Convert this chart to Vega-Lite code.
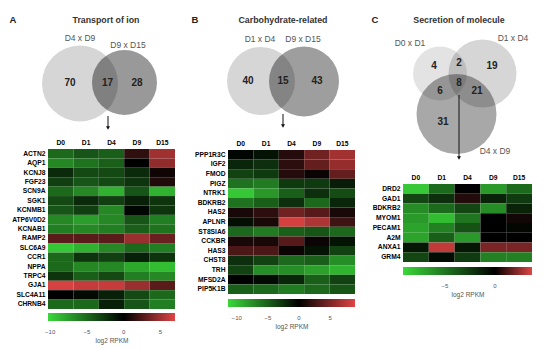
{
"$schema": "https://vega.github.io/schema/vega-lite/v6.json",
"autosize": {"type": "pad"},
"padding": 0,
"bounds": "flush",
"spacing": 0,
"config": {
  "font": "Liberation Sans",
  "view": {"stroke": null},
  "axis": {"labelColor": "#000000", "labelFont": "Liberation Sans"},
  "legend": {"labelFont": "Liberation Sans", "titleFont": "Liberation Sans"}
},
"resolve": {"scale": {"color": "independent", "fill": "independent", "size": "independent"}, "legend": {"color": "independent"}},
"datasets": {
  "vennA": [
    {"kind": "circle", "set": "D4 x D9", "cx": 32, "cy": 83.5, "r": 38},
    {"kind": "circle", "set": "D9 x D15", "cx": 76.5, "cy": 82.5, "r": 32.5},
    {"kind": "arrow", "cx": 60, "cy": 116, "cy2": 128},
    {"kind": "setlabel", "text": "D4 x D9", "cx": 32, "cy": 38},
    {"kind": "setlabel", "text": "D9 x D15", "cx": 80, "cy": 45},
    {"kind": "count", "text": "70", "cx": 22, "cy": 83},
    {"kind": "count", "text": "17", "cx": 59.5, "cy": 83},
    {"kind": "count", "text": "28", "cx": 89, "cy": 83},
    {"kind": "title", "text": "Transport of ion", "cx": 58, "cy": 20},
    {"kind": "panel", "text": "A", "cx": -35, "cy": 20}
  ],
  "vennB": [
    {"kind": "circle", "set": "D1 x D4", "cx": 33, "cy": 81, "r": 34},
    {"kind": "circle", "set": "D9 x D15", "cx": 76, "cy": 81.5, "r": 35},
    {"kind": "arrow", "cx": 55, "cy": 114, "cy2": 126},
    {"kind": "setlabel", "text": "D1 x D4", "cx": 32, "cy": 39},
    {"kind": "setlabel", "text": "D9 x D15", "cx": 75, "cy": 39},
    {"kind": "count", "text": "40", "cx": 20, "cy": 81},
    {"kind": "count", "text": "15", "cx": 55, "cy": 81},
    {"kind": "count", "text": "43", "cx": 89, "cy": 81},
    {"kind": "title", "text": "Carbohydrate-related", "cx": 55, "cy": 20},
    {"kind": "panel", "text": "B", "cx": -33, "cy": 20}
  ],
  "vennC": [
    {"kind": "circle", "set": "D0 x D1", "cx": 37, "cy": 73.5, "r": 27},
    {"kind": "circle", "set": "D1 x D4", "cx": 79.5, "cy": 73.5, "r": 34},
    {"kind": "circle", "set": "D4 x D9", "cx": 53.5, "cy": 114, "r": 40},
    {"kind": "arrow", "cx": 56, "cy": 95, "cy2": 158},
    {"kind": "setlabel", "text": "D0 x D1", "cx": 7, "cy": 43},
    {"kind": "setlabel", "text": "D1 x D4", "cx": 110, "cy": 38},
    {"kind": "setlabel", "text": "D4 x D9", "cx": 92, "cy": 151},
    {"kind": "count", "text": "4", "cx": 31, "cy": 66},
    {"kind": "count", "text": "2", "cx": 56, "cy": 63},
    {"kind": "count", "text": "19", "cx": 89, "cy": 66},
    {"kind": "count", "text": "8", "cx": 56, "cy": 83},
    {"kind": "count", "text": "6", "cx": 37, "cy": 91},
    {"kind": "count", "text": "21", "cx": 74, "cy": 91},
    {"kind": "count", "text": "31", "cx": 40, "cy": 122},
    {"kind": "title", "text": "Secretion of molecule", "cx": 56, "cy": 20},
    {"kind": "panel", "text": "C", "cx": -28, "cy": 20}
  ],
  "hmA": [
    {"gene": "ACTN2", "D0": -5, "D1": -4, "D4": -4.5, "D9": 1.5, "D15": 5},
    {"gene": "AQP1", "D0": -6.5, "D1": -5.5, "D4": -4.5, "D9": 0, "D15": 4.5},
    {"gene": "KCNJ8", "D0": -2, "D1": -3.5, "D4": -3.5, "D9": -2, "D15": 0.5},
    {"gene": "FGF23", "D0": -3, "D1": -4, "D4": -3.5, "D9": -2.5, "D15": 1},
    {"gene": "SCN9A", "D0": -5, "D1": -6.5, "D4": -8.5, "D9": -4, "D15": -8.5},
    {"gene": "SGK1", "D0": -3.5, "D1": -2, "D4": -3, "D9": -1.5, "D15": -2.5},
    {"gene": "KCNMB1", "D0": -4, "D1": -3, "D4": -6.5, "D9": -0.3, "D15": -2.5},
    {"gene": "ATP6V0D2", "D0": -6.5, "D1": -7.5, "D4": -6.5, "D9": -4, "D15": -6},
    {"gene": "KCNAB1", "D0": -6, "D1": -6.5, "D4": -6, "D9": -4.5, "D15": -5.5},
    {"gene": "RAMP2", "D0": 2.8, "D1": 2.8, "D4": 2.8, "D9": 4.8, "D15": 3.3},
    {"gene": "SLC6A9", "D0": -9.5, "D1": -8.5, "D4": -6.5, "D9": -5, "D15": -6},
    {"gene": "CCR1", "D0": -5, "D1": -2.5, "D4": -3, "D9": -1.5, "D15": -2.5},
    {"gene": "NPPA", "D0": -5, "D1": -6.5, "D4": -6.5, "D9": -8, "D15": -9},
    {"gene": "TRPC4", "D0": -2.5, "D1": -4.5, "D4": -3.5, "D9": -6, "D15": -6.5},
    {"gene": "GJA1", "D0": 6.7, "D1": 6.2, "D4": 6.2, "D9": 4.8, "D15": 2.8},
    {"gene": "SLC4A11", "D0": 0, "D1": -0.5, "D4": -1.5, "D9": -3.5, "D15": -5},
    {"gene": "CHRNB4", "D0": -5, "D1": -5, "D4": -1.5, "D9": -4, "D15": -6}
  ],
  "hmB": [
    {"gene": "PPP1R3C", "D0": -0.3, "D1": -1, "D4": 1.5, "D9": 4.5, "D15": 6.5},
    {"gene": "IGF2", "D0": -2, "D1": -2.5, "D4": 1.8, "D9": 4, "D15": 6},
    {"gene": "FMOD", "D0": -3.5, "D1": -3, "D4": 1.5, "D9": 0.5, "D15": 4},
    {"gene": "PIGZ", "D0": -6, "D1": -6.5, "D4": -3, "D9": -3, "D15": -1.5},
    {"gene": "NTRK1", "D0": -10.5, "D1": -8, "D4": -5, "D9": -2.5, "D15": -4},
    {"gene": "BDKRB2", "D0": -6, "D1": -5, "D4": -2.5, "D9": -5.5, "D15": -2},
    {"gene": "HAS2", "D0": 1, "D1": 1.8, "D4": 4.5, "D9": 3.5, "D15": 1},
    {"gene": "APLNR", "D0": -0.8, "D1": 1, "D4": 8.5, "D9": 7, "D15": 2.5},
    {"gene": "ST8SIA6", "D0": -5.5, "D1": -6.5, "D4": -5, "D9": -4.5, "D15": -5.5},
    {"gene": "CCKBR", "D0": 1, "D1": 1, "D4": 3.5, "D9": 0.5, "D15": -1},
    {"gene": "HAS3", "D0": 3, "D1": 3, "D4": 0.5, "D9": -1, "D15": -3.5},
    {"gene": "CHST8", "D0": -2.5, "D1": -3.5, "D4": -5.5, "D9": -5, "D15": -7.5},
    {"gene": "TRH", "D0": -3.5, "D1": -7.5, "D4": -7.5, "D9": -8.5, "D15": -9.5},
    {"gene": "MFSD2A", "D0": 0, "D1": -0.5, "D4": -2, "D9": -5, "D15": -3.5},
    {"gene": "PIP5K1B", "D0": -5, "D1": -5.5, "D4": -6.5, "D9": -5.5, "D15": -4.5}
  ],
  "hmC": [
    {"gene": "DRD2", "D0": -8.5, "D1": -4.5, "D4": 0, "D9": -6.5, "D15": -4.5},
    {"gene": "GAD1", "D0": -3, "D1": -2, "D4": 0.6, "D9": -1.5, "D15": -2.5},
    {"gene": "BDKRB2", "D0": -6, "D1": -4.5, "D4": -3, "D9": -6, "D15": -1.5},
    {"gene": "MYOM1", "D0": -6.5, "D1": -8, "D4": -5, "D9": 0, "D15": 0.3},
    {"gene": "PECAM1", "D0": -7, "D1": -5.5, "D4": -3.5, "D9": 0, "D15": -0.3},
    {"gene": "A2M", "D0": -7, "D1": -4, "D4": -6.5, "D9": 0, "D15": 0},
    {"gene": "ANXA1", "D0": -1, "D1": 3.2, "D4": -1, "D9": 2, "D15": 2},
    {"gene": "GRM4", "D0": -3, "D1": -0.5, "D4": -2.5, "D9": -5.5, "D15": -5.5}
  ]
},
"hconcat": [
  {
    "width": 180, "height": 349,
    "resolve": {"scale": {"x": "independent", "y": "independent"}},
    "layer": [
      {
        "data": {"name": "vennA"},
        "encoding": {
          "x": {"field": "cx", "type": "quantitative", "scale": {"domain": [-48, 132], "nice": false, "zero": false}, "axis": null},
          "y": {"field": "cy", "type": "quantitative", "scale": {"domain": [0, 349], "nice": false, "zero": false, "reverse": true}, "axis": null}
        },
        "layer": [
          {"transform": [{"filter": "datum.kind == 'circle'"}],
           "mark": {"type": "circle", "opacity": 1, "strokeWidth": 0},
           "encoding": {
             "size": {"field": "r", "type": "quantitative", "scale": {"type": "pow", "exponent": 2, "domain": [0, 50], "range": [0, 10000]}, "legend": null},
             "fill": {"field": "set", "type": "nominal", "scale": {"domain": ["D4 x D9", "D9 x D15"], "range": ["#d6d6d6", "rgba(0,0,0,0.4)"]}, "legend": null}
           }},
          {"transform": [{"filter": "datum.kind == 'arrow'"}],
           "mark": {"type": "rule", "color": "#111111", "strokeWidth": 1},
           "encoding": {"y2": {"field": "cy2"}}},
          {"transform": [{"filter": "datum.kind == 'arrow'"}],
           "mark": {"type": "point", "shape": "triangle-down", "filled": true, "opacity": 1, "color": "#111111", "size": 16},
           "encoding": {"y": {"field": "cy2", "type": "quantitative", "scale": {"domain": [0, 349], "nice": false, "zero": false, "reverse": true}, "axis": null}}},
          {"transform": [{"filter": "datum.kind == 'setlabel'"}],
           "mark": {"type": "text", "fontSize": 8.5, "color": "#555555", "align": "center", "baseline": "middle"},
           "encoding": {"text": {"field": "text"}}},
          {"transform": [{"filter": "datum.kind == 'count'"}],
           "mark": {"type": "text", "fontSize": 10, "fontWeight": "bold", "color": "#222222", "align": "center", "baseline": "middle"},
           "encoding": {"text": {"field": "text"}}},
          {"transform": [{"filter": "datum.kind == 'title'"}],
           "mark": {"type": "text", "fontSize": 8.8, "fontWeight": "bold", "color": "#333333", "align": "center", "baseline": "middle"},
           "encoding": {"text": {"field": "text"}}},
          {"transform": [{"filter": "datum.kind == 'panel'"}],
           "mark": {"type": "text", "fontSize": 9.5, "fontWeight": "bold", "color": "#222222", "align": "center", "baseline": "middle"},
           "encoding": {"text": {"field": "text"}}}
        ]
      },
      {
        "data": {"name": "hmA"},
        "transform": [{"fold": ["D0", "D1", "D4", "D9", "D15"], "as": ["day", "v"]}],
        "mark": {"type": "rect"},
        "encoding": {
          "x": {"field": "day", "type": "nominal", "sort": ["D0", "D1", "D4", "D9", "D15"], "scale": {"padding": 0, "range": [48, 175]},
                "axis": {"orient": "top", "offset": -149, "title": null, "ticks": false, "domain": false, "labelAngle": 0, "labelFontWeight": "bold", "labelFontSize": 6.7, "labelPadding": 4}},
          "y": {"field": "gene", "type": "nominal", "sort": null, "scale": {"padding": 0, "range": [149, 309]},
                "axis": {"orient": "left", "offset": -48, "title": null, "ticks": false, "domain": false, "labelFontWeight": "bold", "labelFontSize": 6.7, "labelPadding": 3}},
          "color": {"field": "v", "type": "quantitative",
                    "scale": {"domain": [-10.3, 0, 7], "range": ["#3ad83a", "#000000", "#e04444"], "interpolate": "rgb"},
                    "legend": {"orient": "none", "legendX": 48, "legendY": 313, "direction": "horizontal", "gradientLength": 127, "gradientThickness": 8,
                               "values": [-10, -5, 0, 5], "title": "log2 RPKM", "titleOrient": "bottom", "titleAnchor": "middle",
                               "titleFontSize": 6.5, "titleFontWeight": "normal", "titleColor": "#555555", "titlePadding": 3,
                               "labelFontSize": 6, "labelColor": "#555555", "labelOverlap": false, "labelOffset": 8, "gradientStrokeColor": "#cccccc"}}
        }
      }
    ]
  },
  {
    "width": 190, "height": 349,
    "resolve": {"scale": {"x": "independent", "y": "independent"}},
    "layer": [
      {
        "data": {"name": "vennB"},
        "encoding": {
          "x": {"field": "cx", "type": "quantitative", "scale": {"domain": [-48, 142], "nice": false, "zero": false}, "axis": null},
          "y": {"field": "cy", "type": "quantitative", "scale": {"domain": [0, 349], "nice": false, "zero": false, "reverse": true}, "axis": null}
        },
        "layer": [
          {"transform": [{"filter": "datum.kind == 'circle'"}],
           "mark": {"type": "circle", "opacity": 1, "strokeWidth": 0},
           "encoding": {
             "size": {"field": "r", "type": "quantitative", "scale": {"type": "pow", "exponent": 2, "domain": [0, 50], "range": [0, 10000]}, "legend": null},
             "fill": {"field": "set", "type": "nominal", "scale": {"domain": ["D1 x D4", "D9 x D15"], "range": ["#d6d6d6", "rgba(0,0,0,0.38)"]}, "legend": null}
           }},
          {"transform": [{"filter": "datum.kind == 'arrow'"}],
           "mark": {"type": "rule", "color": "#111111", "strokeWidth": 1},
           "encoding": {"y2": {"field": "cy2"}}},
          {"transform": [{"filter": "datum.kind == 'arrow'"}],
           "mark": {"type": "point", "shape": "triangle-down", "filled": true, "opacity": 1, "color": "#111111", "size": 16},
           "encoding": {"y": {"field": "cy2", "type": "quantitative", "scale": {"domain": [0, 349], "nice": false, "zero": false, "reverse": true}, "axis": null}}},
          {"transform": [{"filter": "datum.kind == 'setlabel'"}],
           "mark": {"type": "text", "fontSize": 8.5, "color": "#555555", "align": "center", "baseline": "middle"},
           "encoding": {"text": {"field": "text"}}},
          {"transform": [{"filter": "datum.kind == 'count'"}],
           "mark": {"type": "text", "fontSize": 10, "fontWeight": "bold", "color": "#222222", "align": "center", "baseline": "middle"},
           "encoding": {"text": {"field": "text"}}},
          {"transform": [{"filter": "datum.kind == 'title'"}],
           "mark": {"type": "text", "fontSize": 8.8, "fontWeight": "bold", "color": "#333333", "align": "center", "baseline": "middle"},
           "encoding": {"text": {"field": "text"}}},
          {"transform": [{"filter": "datum.kind == 'panel'"}],
           "mark": {"type": "text", "fontSize": 9.5, "fontWeight": "bold", "color": "#222222", "align": "center", "baseline": "middle"},
           "encoding": {"text": {"field": "text"}}}
        ]
      },
      {
        "data": {"name": "hmB"},
        "transform": [{"fold": ["D0", "D1", "D4", "D9", "D15"], "as": ["day", "v"]}],
        "mark": {"type": "rect"},
        "encoding": {
          "x": {"field": "day", "type": "nominal", "sort": ["D0", "D1", "D4", "D9", "D15"], "scale": {"padding": 0, "range": [48, 175]},
                "axis": {"orient": "top", "offset": -150, "title": null, "ticks": false, "domain": false, "labelAngle": 0, "labelFontWeight": "bold", "labelFontSize": 6.7, "labelPadding": 4}},
          "y": {"field": "gene", "type": "nominal", "sort": null, "scale": {"padding": 0, "range": [150, 294]},
                "axis": {"orient": "left", "offset": -48, "title": null, "ticks": false, "domain": false, "labelFontWeight": "bold", "labelFontSize": 6.7, "labelPadding": 3}},
          "color": {"field": "v", "type": "quantitative",
                    "scale": {"domain": [-11.4, 0, 9], "range": ["#3ad83a", "#000000", "#e04444"], "interpolate": "rgb"},
                    "legend": {"orient": "none", "legendX": 48, "legendY": 299, "direction": "horizontal", "gradientLength": 127, "gradientThickness": 8,
                               "values": [-10, -5, 0, 5], "title": "log2 RPKM", "titleOrient": "bottom", "titleAnchor": "middle",
                               "titleFontSize": 6.5, "titleFontWeight": "normal", "titleColor": "#555555", "titlePadding": 3,
                               "labelFontSize": 6, "labelColor": "#555555", "labelOverlap": false, "labelOffset": 8, "gradientStrokeColor": "#cccccc"}}
        }
      }
    ]
  },
  {
    "width": 180, "height": 349,
    "resolve": {"scale": {"x": "independent", "y": "independent"}},
    "layer": [
      {
        "data": {"name": "vennC"},
        "encoding": {
          "x": {"field": "cx", "type": "quantitative", "scale": {"domain": [-33, 147], "nice": false, "zero": false}, "axis": null},
          "y": {"field": "cy", "type": "quantitative", "scale": {"domain": [0, 349], "nice": false, "zero": false, "reverse": true}, "axis": null}
        },
        "layer": [
          {"transform": [{"filter": "datum.kind == 'circle'"}],
           "mark": {"type": "circle", "opacity": 1, "strokeWidth": 0},
           "encoding": {
             "size": {"field": "r", "type": "quantitative", "scale": {"type": "pow", "exponent": 2, "domain": [0, 50], "range": [0, 10000]}, "legend": null},
             "fill": {"field": "set", "type": "nominal", "scale": {"domain": ["D0 x D1", "D1 x D4", "D4 x D9"], "range": ["rgba(0,0,0,0.11)", "rgba(0,0,0,0.16)", "rgba(0,0,0,0.34)"]}, "legend": null}
           }},
          {"transform": [{"filter": "datum.kind == 'arrow'"}],
           "mark": {"type": "rule", "color": "#111111", "strokeWidth": 1},
           "encoding": {"y2": {"field": "cy2"}}},
          {"transform": [{"filter": "datum.kind == 'arrow'"}],
           "mark": {"type": "point", "shape": "triangle-down", "filled": true, "opacity": 1, "color": "#111111", "size": 16},
           "encoding": {"y": {"field": "cy2", "type": "quantitative", "scale": {"domain": [0, 349], "nice": false, "zero": false, "reverse": true}, "axis": null}}},
          {"transform": [{"filter": "datum.kind == 'setlabel'"}],
           "mark": {"type": "text", "fontSize": 8.5, "color": "#555555", "align": "center", "baseline": "middle"},
           "encoding": {"text": {"field": "text"}}},
          {"transform": [{"filter": "datum.kind == 'count'"}],
           "mark": {"type": "text", "fontSize": 10, "fontWeight": "bold", "color": "#222222", "align": "center", "baseline": "middle"},
           "encoding": {"text": {"field": "text"}}},
          {"transform": [{"filter": "datum.kind == 'title'"}],
           "mark": {"type": "text", "fontSize": 8.8, "fontWeight": "bold", "color": "#333333", "align": "center", "baseline": "middle"},
           "encoding": {"text": {"field": "text"}}},
          {"transform": [{"filter": "datum.kind == 'panel'"}],
           "mark": {"type": "text", "fontSize": 9.5, "fontWeight": "bold", "color": "#222222", "align": "center", "baseline": "middle"},
           "encoding": {"text": {"field": "text"}}}
        ]
      },
      {
        "data": {"name": "hmC"},
        "transform": [{"fold": ["D0", "D1", "D4", "D9", "D15"], "as": ["day", "v"]}],
        "mark": {"type": "rect"},
        "encoding": {
          "x": {"field": "day", "type": "nominal", "sort": ["D0", "D1", "D4", "D9", "D15"], "scale": {"padding": 0, "range": [33, 162]},
                "axis": {"orient": "top", "offset": -184, "title": null, "ticks": false, "domain": false, "labelAngle": 0, "labelFontWeight": "bold", "labelFontSize": 6.7, "labelPadding": 4}},
          "y": {"field": "gene", "type": "nominal", "sort": null, "scale": {"padding": 0, "range": [184, 262]},
                "axis": {"orient": "left", "offset": -33, "title": null, "ticks": false, "domain": false, "labelFontWeight": "bold", "labelFontSize": 6.7, "labelPadding": 3}},
          "color": {"field": "v", "type": "quantitative",
                    "scale": {"domain": [-9.2, 0, 3.7], "range": ["#3ad83a", "#000000", "#e04444"], "interpolate": "rgb"},
                    "legend": {"orient": "none", "legendX": 33, "legendY": 267, "direction": "horizontal", "gradientLength": 129, "gradientThickness": 8,
                               "values": [-5, 0], "title": "log2 RPKM", "titleOrient": "bottom", "titleAnchor": "middle",
                               "titleFontSize": 6.5, "titleFontWeight": "normal", "titleColor": "#555555", "titlePadding": 3,
                               "labelFontSize": 6, "labelColor": "#555555", "labelOverlap": false, "labelOffset": 8, "gradientStrokeColor": "#cccccc"}}
        }
      }
    ]
  }
]
}
